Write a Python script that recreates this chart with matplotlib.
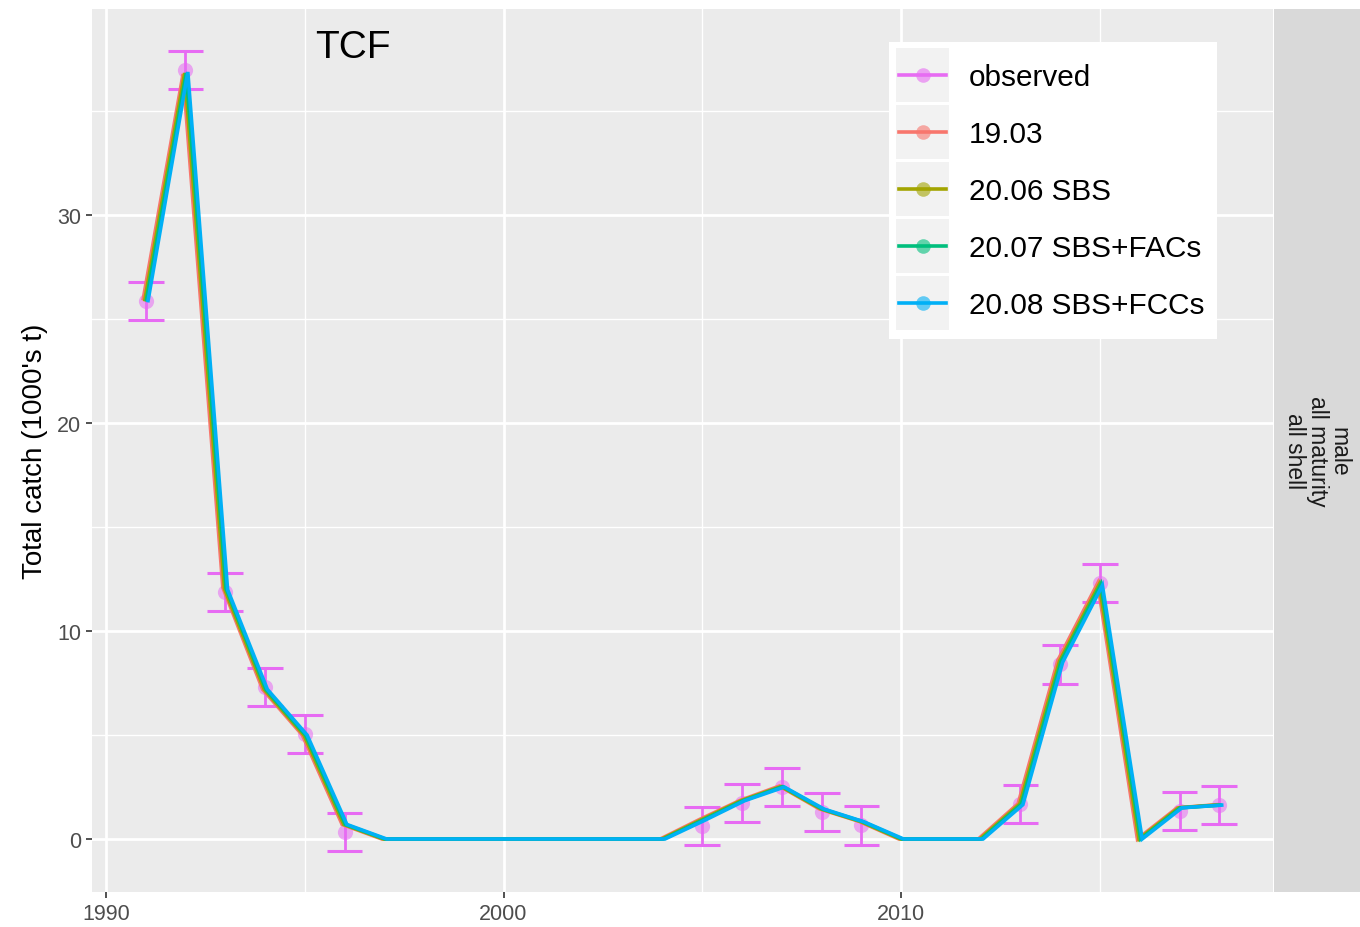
import matplotlib
matplotlib.use("Agg")
import matplotlib.pyplot as plt
from matplotlib.patches import Rectangle
from matplotlib.lines import Line2D
import numpy as np

plt.rcParams["font.family"] = ["Liberation Sans", "DejaVu Sans"]

# observed catch with error bars
obs_years = [1991, 1992, 1993, 1994, 1995, 1996, 2005, 2006, 2007, 2008, 2009,
             2013, 2014, 2015, 2017, 2018]
obs_vals = [25.87, 37.0, 11.87, 7.3, 5.05, 0.34, 0.64, 1.72, 2.5, 1.3, 0.65,
            1.68, 8.4, 12.3, 1.35, 1.62]
obs_err = [0.92] * len(obs_years)

# model fits (all very similar)
mod_years = list(range(1991, 2019))
fit_1903 = [26.0, 36.8, 12.1, 7.2, 5.0, 0.7, 0, 0, 0, 0, 0, 0, 0, 0,
            0.95, 1.85, 2.55, 1.45, 0.85, 0, 0, 0, 1.7, 8.6, 12.3, 0, 1.5, 1.65]
fit_2006 = [25.95, 36.85, 12.05, 7.2, 5.0, 0.7, 0, 0, 0, 0, 0, 0, 0, 0,
            0.93, 1.85, 2.52, 1.45, 0.84, 0, 0, 0, 1.68, 8.55, 12.25, 0, 1.5, 1.64]
fit_2007 = [25.95, 36.85, 12.05, 7.2, 5.0, 0.7, 0, 0, 0, 0, 0, 0, 0, 0,
            0.92, 1.84, 2.52, 1.44, 0.84, 0, 0, 0, 1.67, 8.55, 12.25, 0, 1.5, 1.63]
fit_2008 = [25.9, 36.9, 12.0, 7.2, 5.0, 0.7, 0, 0, 0, 0, 0, 0, 0, 0,
            0.9, 1.84, 2.5, 1.44, 0.83, 0, 0, 0, 1.65, 8.5, 12.2, 0, 1.5, 1.63]

labels = ["observed", "19.03", "20.06 SBS", "20.07 SBS+FACs", "20.08 SBS+FCCs"]
colors = ["#E76BF3", "#F8766D", "#A3A500", "#00BF7D", "#00B0F6"]
fits = [fit_1903, fit_2006, fit_2007, fit_2008]
dodge = [-0.06, -0.02, 0.02, 0.06]

W, H = 1360, 928
fig = plt.figure(figsize=(W / 100, H / 100), dpi=100)
ax = fig.add_axes([92 / W, 1 - 893 / H, (1273 - 92) / W, (893 - 10) / H])
ax.set_facecolor("#EBEBEB")
for s in ax.spines.values():
    s.set_visible(False)

ax.set_xlim(1989.65, 2019.35)
ax.set_ylim(-2.55, 39.93)
ax.set_xticks([1990, 2000, 2010])
ax.set_yticks([0, 10, 20, 30])
ax.set_xticks([1995, 2005, 2015], minor=True)
ax.set_yticks([5, 15, 25, 35], minor=True)
ax.grid(which="major", color="white", lw=2.0)
ax.grid(which="minor", color="white", lw=1.0)
ax.set_axisbelow(True)
ax.tick_params(which="major", length=4, width=1.2, color="#333333",
               labelsize=15.5, labelcolor="#4D4D4D", pad=4)
ax.tick_params(which="minor", length=0)
ax.set_ylabel("Total catch (1000's t)", fontsize=20, labelpad=6)

# observed error bars and points
ob_col = colors[0]
lo = np.array(obs_vals) - np.array(obs_err)
hi = np.array(obs_vals) + np.array(obs_err)
ax.vlines(obs_years, lo, hi, color=ob_col, lw=2.0, zorder=3)
ax.hlines(lo, np.array(obs_years) - 0.45, np.array(obs_years) + 0.45, color=ob_col, lw=2.2, zorder=3)
ax.hlines(hi, np.array(obs_years) - 0.45, np.array(obs_years) + 0.45, color=ob_col, lw=2.2, zorder=3)
ax.scatter(obs_years, obs_vals, s=120, color=ob_col, alpha=0.55, lw=0, zorder=3)

for fit, c, d in zip(fits, colors[1:], dodge):
    ax.plot(np.array(mod_years) + d, fit, color=c, lw=2.6, zorder=4,
            solid_joinstyle="miter")

ax.text(0.221, 0.957, "TCF", transform=ax.transAxes, fontsize=28,
        ha="center", va="center")

# facet strip on the right
sax = fig.add_axes([1274 / W, 1 - 893 / H, (W - 1274) / W, (893 - 10) / H])
sax.set_facecolor("#D9D9D9")
sax.set_xticks([])
sax.set_yticks([])
for s in sax.spines.values():
    s.set_visible(False)
sax.text(0.5, 0.5, "male\nall maturity\nall shell", rotation=-90, ha="center",
         va="center", fontsize=16.5, color="#1A1A1A", linespacing=0.95,
         transform=sax.transAxes)

# legend drawn by hand (ggplot style key boxes)
lx0, ly0, lx1, ly1 = 889, 43, 1217, 340
fig.patches.append(Rectangle((lx0 / W, 1 - ly1 / H), (lx1 - lx0) / W, (ly1 - ly0) / H,
                             transform=fig.transFigure, facecolor="white",
                             edgecolor="none", zorder=5))
row_h = 57
for i, (lab, c) in enumerate(zip(labels, colors)):
    yc = 76 + i * row_h
    fig.patches.append(Rectangle((896 / W, 1 - (yc + 27) / H), 53 / W, 54 / H,
                                 transform=fig.transFigure, facecolor="#F2F2F2",
                                 edgecolor="none", zorder=6))
    fig.lines.append(Line2D([899 / W, 946 / W], [1 - yc / H, 1 - yc / H],
                            transform=fig.transFigure, color=c, lw=2.6, zorder=7))
    fig.lines.append(Line2D([922.5 / W], [1 - yc / H], transform=fig.transFigure,
                            marker="o", ms=10.5, color=c, alpha=0.6, mew=0, zorder=8))
    fig.text(969 / W, 1 - (yc + 2) / H, lab, fontsize=21.4, va="center", ha="left", zorder=9)

fig.savefig("out.png", dpi=100)
